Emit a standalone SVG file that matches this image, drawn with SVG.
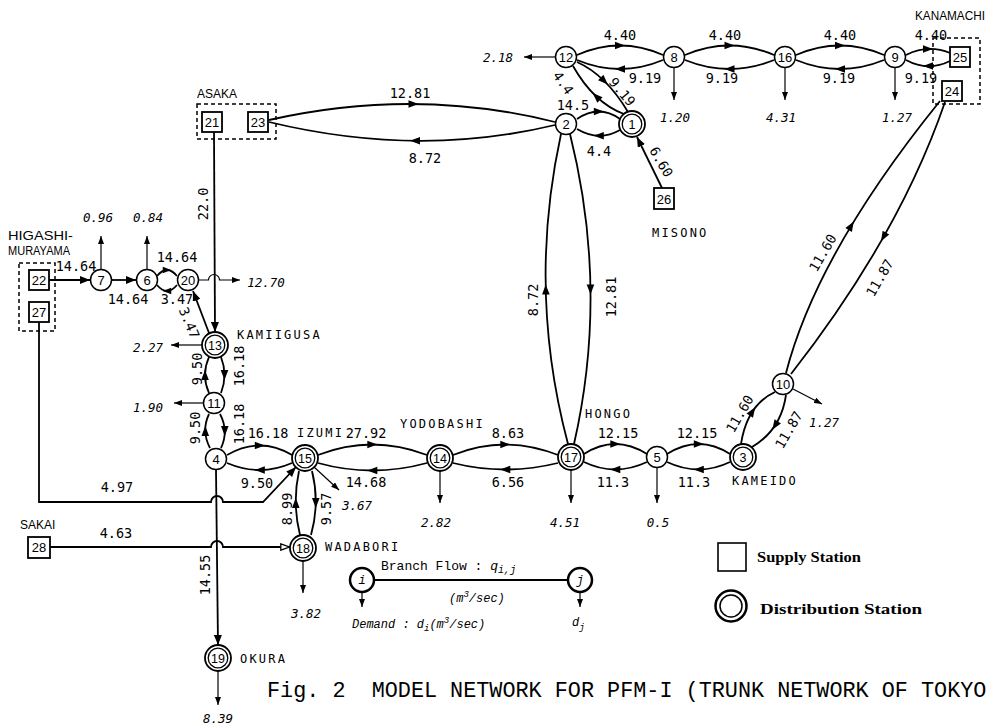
<svg xmlns="http://www.w3.org/2000/svg" xmlns:xlink="http://www.w3.org/1999/xlink" width="988" height="727" viewBox="0 0 988 727">
<style>
.n{font-family:"Liberation Sans",Arial,sans-serif;font-size:13px;text-anchor:middle}
.n2{font-family:"Liberation Sans",Arial,sans-serif;font-size:12.5px;text-anchor:middle}
.lb{font-family:"DejaVu Sans Mono",monospace;font-size:13.5px;text-anchor:middle}
.dm{font-family:"DejaVu Sans Mono",monospace;font-size:12.5px;font-style:italic;text-anchor:middle}
.st{font-family:"DejaVu Sans Mono",monospace;font-size:12px;letter-spacing:2.2px}
.sn{font-family:"Liberation Sans",Arial,sans-serif;font-size:12px}
.nd{fill:#fff;stroke:#000;stroke-width:1.5}
.o{fill:#fff;stroke:#000;stroke-width:1.8}
.i{fill:none;stroke:#000;stroke-width:1.3}
.bx{fill:#fff;stroke:#000;stroke-width:1.8}
.dash{fill:none;stroke:#000;stroke-width:1.5;stroke-dasharray:4 3}
.e{fill:none;stroke:#000;stroke-width:1.8}
.d{fill:none;stroke:#000;stroke-width:1.2}
.lg{font-family:"Liberation Mono","Courier New",monospace;font-size:13px}
.lgi{font-family:"Liberation Mono","Courier New",monospace;font-size:12px;font-style:italic}
.bs{font-family:"Liberation Serif","Times New Roman",serif;font-size:14px;font-weight:bold}
.title{font-family:"Liberation Mono","Courier New",monospace;font-size:21.8px;white-space:pre}
</style>
<defs>
<marker id="ah" viewBox="0 0 10 8" refX="10" refY="4" markerWidth="10" markerHeight="8" markerUnits="userSpaceOnUse" orient="auto"><path d="M0,0 L10,4 L0,8 Z" fill="#000"/></marker>
<marker id="as" viewBox="0 0 8 6" refX="8" refY="3" markerWidth="8" markerHeight="6" markerUnits="userSpaceOnUse" orient="auto"><path d="M0,0 L8,3 L0,6 Z" fill="#000"/></marker>
<marker id="ao" viewBox="0 0 10 8" refX="10" refY="4" markerWidth="10" markerHeight="8" markerUnits="userSpaceOnUse" orient="auto"><path d="M0.8,0.8 L9.5,4 L0.8,7.2 Z" fill="#fff" stroke="#000" stroke-width="1.3"/></marker>
<path id="am" d="M5,0 L-5,-3.8 L-5,3.8 Z"/>
</defs>
<rect width="988" height="727" fill="#fff"/>

<g id="connectors">
 <g class="e">
  <path d="M577,55 Q620,36 663,55"/><path d="M663,60 Q620,78 577,60"/>
  <path d="M685,55 Q729.5,36 774,55"/><path d="M774,60 Q729.5,78 685,60"/>
  <path d="M796,55 Q840,36 884,55"/><path d="M884,60 Q840,78 796,60"/>
  <path d="M906,55 Q928,44 950,53"/><path d="M950,61 Q928,72 906,60"/>
  <path d="M624,114 Q594,103 573,66"/><path d="M577,62 Q606,75 628,112"/>
  <path d="M577,119 Q599,104 620,119"/><path d="M620,130 Q599,142 577,129"/>
  <path d="M662,188 L637,137" marker-end="url(#ah)"/>
  <path d="M269,120 Q415,87 555,122"/><path d="M555,125 Q418,158 269,122"/>
  <path d="M568,444 Q527,290 561,134"/><path d="M570,134 Q609,290 574,444"/>
  <path d="M786,373 Q817,253 940,101"/><path d="M945,102 Q899,236 791,374"/>
  <path d="M741,444 Q747,405 775,392"/><path d="M786,395 Q781,430 752,447"/>
  <path d="M49,280 H90" marker-end="url(#ah)"/>
  <path d="M112,280 H136" marker-end="url(#ah)"/>
  <path d="M157,276 Q167,264 177,276"/><path d="M177,285 Q167,297 157,285"/>
  <path d="M214,132 L215,332" marker-end="url(#ah)"/>
  <path d="M209,333 L193,291" marker-end="url(#ah)"/>
  <path d="M209,393 Q201,375 209,357"/><path d="M221,357 Q228,375 221,393"/>
  <path d="M210,448 Q201,431 209,414"/><path d="M220,414 Q229,431 221,448"/>
  <path d="M227,455 Q260,436 292,455"/><path d="M292,463 Q260,477 227,463"/>
  <path d="M318,455 Q372,434 427,455"/><path d="M427,463 Q372,478 318,463"/>
  <path d="M453,455 Q505,434 558,455"/><path d="M558,463 Q505,476 453,463"/>
  <path d="M584,454 Q615,434 647,454"/><path d="M647,462 Q615,477 584,462"/>
  <path d="M667,454 Q699,434 730,454"/><path d="M730,462 Q699,477 667,462"/>
  <path d="M300,535 Q292,503 299,471"/><path d="M312,471 Q320,503 311,535"/>
  <path d="M216,470 L218,645" marker-end="url(#ah)"/>
  <path d="M39,322 V502 H211 A6,6 0 0 1 223,502 H263 L296,467" marker-end="url(#ah)"/>
  <path d="M50,547 H211 A6,6 0 0 1 223,547 H290" marker-end="url(#ao)"/>
 </g>
 <g class="d">
  <path d="M555.5,57 H524" marker-end="url(#as)"/>
  <path d="M674,67.5 V100" marker-end="url(#as)"/>
  <path d="M785,67.5 V100" marker-end="url(#as)"/>
  <path d="M895,67.5 V100" marker-end="url(#as)"/>
  <path d="M101,269.5 V236" marker-end="url(#as)"/>
  <path d="M147,269.5 V236" marker-end="url(#as)"/>
  <path d="M198.5,280 H208.5 A5.5,5.5 0 0 1 219.5,280 H240" marker-end="url(#as)"/>
  <path d="M202,345 H171" marker-end="url(#as)"/>
  <path d="M203.5,403 H174" marker-end="url(#as)"/>
  <path d="M314,467 L339,490" marker-end="url(#as)"/>
  <path d="M440,471 V503" marker-end="url(#as)"/>
  <path d="M571,470 V503" marker-end="url(#as)"/>
  <path d="M657,467.5 V503" marker-end="url(#as)"/>
  <path d="M303,561 V593" marker-end="url(#as)"/>
  <path d="M218,671 V705" marker-end="url(#as)"/>
  <path d="M793,389 L822,404" marker-end="url(#as)"/>
 </g>
 <g fill="#000">
  <use xlink:href="#am" transform="translate(620,45.5)"/>
  <use xlink:href="#am" transform="translate(620,69) rotate(180)"/>
  <use xlink:href="#am" transform="translate(729.5,45.5)"/>
  <use xlink:href="#am" transform="translate(729.5,69) rotate(180)"/>
  <use xlink:href="#am" transform="translate(840,45.5)"/>
  <use xlink:href="#am" transform="translate(840,69) rotate(180)"/>
  <use xlink:href="#am" transform="translate(928,49)"/>
  <use xlink:href="#am" transform="translate(928,66) rotate(180)"/>
  <use xlink:href="#am" transform="translate(596.3,96.5) rotate(-136.7)"/>
  <use xlink:href="#am" transform="translate(604.3,81) rotate(44.4)"/>
  <use xlink:href="#am" transform="translate(598.8,111.5)"/>
  <use xlink:href="#am" transform="translate(598.8,135.8) rotate(180)"/>
  <use xlink:href="#am" transform="translate(413.5,104)"/>
  <use xlink:href="#am" transform="translate(415,140.8) rotate(180)"/>
  <use xlink:href="#am" transform="translate(545.8,289.5) rotate(-91.3)"/>
  <use xlink:href="#am" transform="translate(590.5,289.5) rotate(89.3)"/>
  <use xlink:href="#am" transform="translate(851.2,225.8) rotate(-58.9)"/>
  <use xlink:href="#am" transform="translate(883.5,237) rotate(119.5)"/>
  <use xlink:href="#am" transform="translate(752.5,411.5) rotate(-56.8)"/>
  <use xlink:href="#am" transform="translate(775,425.5) rotate(123.2)"/>
  <use xlink:href="#am" transform="translate(167,270) scale(0.85)"/>
  <use xlink:href="#am" transform="translate(167,291) rotate(180) scale(0.85)"/>
  <use xlink:href="#am" transform="translate(205,375) rotate(-90)"/>
  <use xlink:href="#am" transform="translate(224.5,375) rotate(90)"/>
  <use xlink:href="#am" transform="translate(205.3,431) rotate(-90)"/>
  <use xlink:href="#am" transform="translate(224.8,431) rotate(90)"/>
  <use xlink:href="#am" transform="translate(259.8,445.5)"/>
  <use xlink:href="#am" transform="translate(259.8,470) rotate(180)"/>
  <use xlink:href="#am" transform="translate(372.3,444.5)"/>
  <use xlink:href="#am" transform="translate(372.3,470.5) rotate(180)"/>
  <use xlink:href="#am" transform="translate(505.3,444.5)"/>
  <use xlink:href="#am" transform="translate(505.3,469.5) rotate(180)"/>
  <use xlink:href="#am" transform="translate(615.3,444)"/>
  <use xlink:href="#am" transform="translate(615.3,469.5) rotate(180)"/>
  <use xlink:href="#am" transform="translate(698.8,444)"/>
  <use xlink:href="#am" transform="translate(698.8,469.5) rotate(180)"/>
  <use xlink:href="#am" transform="translate(295.8,503) rotate(-90)"/>
  <use xlink:href="#am" transform="translate(315.8,503) rotate(90)"/>
 </g>
</g>

<g id="edge-labels">
 <text class="lb" x="620" y="40">4.40</text><text class="lb" x="645" y="83">9.19</text>
 <text class="lb" x="725" y="40">4.40</text><text class="lb" x="722" y="83">9.19</text>
 <text class="lb" x="840" y="40">4.40</text><text class="lb" x="839" y="83">9.19</text>
 <text class="lb" x="931" y="40">4.40</text><text class="lb" x="921" y="83">9.19</text>
 <text class="lb" x="573" y="110">14.5</text>
 <text class="lb" x="599" y="156">4.4</text>
 <text class="lb" transform="translate(563,83) rotate(55)" y="4.5">4.4</text>
 <text class="lb" transform="translate(622,92) rotate(50)" y="4.5">9.19</text>
 <text class="lb" transform="translate(661,162) rotate(60)" y="4.5">6.60</text>
 <text class="lb" x="410" y="98">12.81</text>
 <text class="lb" x="425" y="163">8.72</text>
 <text class="lb" transform="translate(533,300) rotate(-90)" y="4.5">8.72</text>
 <text class="lb" transform="translate(611,297) rotate(-90)" y="4.5">12.81</text>
 <text class="lb" transform="translate(823,253) rotate(-60)" y="4.5">11.60</text>
 <text class="lb" transform="translate(880,278) rotate(-60)" y="4.5">11.87</text>
 <text class="lb" transform="translate(740,414) rotate(-60)" y="4.5">11.60</text>
 <text class="lb" transform="translate(789,430) rotate(-60)" y="4.5">11.87</text>
 <text class="lb" transform="translate(203,204) rotate(-90)" y="4.5">22.0</text>
 <text class="lb" x="76" y="271">14.64</text>
 <text class="lb" x="128" y="304">14.64</text>
 <text class="lb" x="177" y="262">14.64</text>
 <text class="lb" x="177" y="304">3.47</text>
 <text class="lb" transform="translate(189,323) rotate(67)" y="4.5">3.47</text>
 <text class="lb" transform="translate(197,369) rotate(-90)" y="4.5">9.50</text>
 <text class="lb" transform="translate(239,366) rotate(-90)" y="4.5">16.18</text>
 <text class="lb" transform="translate(195,428) rotate(-90)" y="4.5">9.50</text>
 <text class="lb" transform="translate(239,424) rotate(-90)" y="4.5">16.18</text>
 <text class="lb" x="268" y="438">16.18</text>
 <text class="lb" x="257" y="488">9.50</text>
 <text class="lb" x="366" y="438">27.92</text>
 <text class="lb" x="366" y="487">14.68</text>
 <text class="lb" x="508" y="438">8.63</text>
 <text class="lb" x="508" y="487">6.56</text>
 <text class="lb" x="618" y="438">12.15</text>
 <text class="lb" x="613" y="487">11.3</text>
 <text class="lb" x="697" y="438">12.15</text>
 <text class="lb" x="694" y="487">11.3</text>
 <text class="lb" transform="translate(287,509) rotate(-90)" y="4.5">8.99</text>
 <text class="lb" transform="translate(326,509) rotate(-90)" y="4.5">9.57</text>
 <text class="lb" transform="translate(205,575) rotate(-90)" y="4.5">14.55</text>
 <text class="lb" x="117" y="492">4.97</text>
 <text class="lb" x="116" y="538">4.63</text>
 <text class="dm" x="498" y="62">2.18</text>
 <text class="dm" x="675" y="122">1.20</text>
 <text class="dm" x="781" y="122">4.31</text>
 <text class="dm" x="897" y="122">1.27</text>
 <text class="dm" x="98" y="222">0.96</text>
 <text class="dm" x="148" y="222">0.84</text>
 <text class="dm" x="266" y="287">12.70</text>
 <text class="dm" x="148" y="352">2.27</text>
 <text class="dm" x="148" y="412">1.90</text>
 <text class="dm" x="357" y="510">3.67</text>
 <text class="dm" x="436" y="527">2.82</text>
 <text class="dm" x="565" y="527">4.51</text>
 <text class="dm" x="658" y="527">0.5</text>
 <text class="dm" x="306" y="618">3.82</text>
 <text class="dm" x="218" y="723">8.39</text>
 <text class="dm" x="824" y="427">1.27</text>
</g>

<g id="groups">
 <rect class="dash" x="197" y="104" width="79" height="35"/>
 <text class="sn" x="197" y="98">ASAKA</text>
 <rect class="dash" x="19" y="263" width="36" height="68"/>
 <text class="sn" x="8" y="240" textLength="65" lengthAdjust="spacingAndGlyphs">HIGASHI-</text>
 <text class="sn" x="8" y="255" textLength="62" lengthAdjust="spacingAndGlyphs">MURAYAMA</text>
 <rect class="dash" x="933" y="38" width="47" height="66"/>
 <text class="sn" x="915" y="20" textLength="70" lengthAdjust="spacingAndGlyphs">KANAMACHI</text>
</g>

<g id="node-21"><rect class="bx" x="202" y="112" width="20" height="20"/><text class="n" x="212" y="127">21</text></g>
<g id="node-23"><rect class="bx" x="248" y="112" width="20" height="20"/><text class="n" x="258" y="127">23</text></g>
<g id="node-22"><rect class="bx" x="29" y="270" width="20" height="20"/><text class="n" x="39" y="285">22</text></g>
<g id="node-27"><rect class="bx" x="29" y="302" width="20" height="20"/><text class="n" x="39" y="317">27</text></g>
<g id="node-25"><rect class="bx" x="950" y="47" width="20" height="20"/><text class="n" x="960" y="62">25</text></g>
<g id="node-24"><rect class="bx" x="942" y="81" width="20" height="20"/><text class="n" x="952" y="96">24</text></g>
<g id="node-26"><rect class="bx" x="654" y="188" width="20" height="21"/><text class="n" x="664" y="203.5">26</text><text class="st" x="652" y="237">MISONO</text></g>
<g id="node-28"><rect class="bx" x="28" y="537" width="22" height="21"/><text class="n" x="39" y="552">28</text><text class="sn" x="20" y="529">SAKAI</text></g>

<g id="node-12"><circle class="nd" cx="566" cy="57" r="10.5"/><text class="n" x="566" y="61.5">12</text></g>
<g id="node-8"><circle class="nd" cx="674" cy="57" r="10.5"/><text class="n" x="674" y="61.5">8</text></g>
<g id="node-16"><circle class="nd" cx="785" cy="57" r="10.5"/><text class="n" x="785" y="61.5">16</text></g>
<g id="node-9"><circle class="nd" cx="895" cy="57" r="10.5"/><text class="n" x="895" y="61.5">9</text></g>
<g id="node-2"><circle class="nd" cx="566" cy="124" r="10.5"/><text class="n" x="566" y="128.5">2</text></g>
<g id="node-1"><circle class="o" cx="632" cy="124" r="13"/><circle class="i" cx="632" cy="124" r="9.8"/><text class="n2" x="632" y="128.5">1</text></g>
<g id="node-7"><circle class="nd" cx="101" cy="280" r="10.5"/><text class="n" x="101" y="284.5">7</text></g>
<g id="node-6"><circle class="nd" cx="147" cy="280" r="10.5"/><text class="n" x="147" y="284.5">6</text></g>
<g id="node-20"><circle class="nd" cx="188" cy="280" r="10.5"/><text class="n" x="188" y="284.5">20</text></g>
<g id="node-13"><circle class="o" cx="215" cy="345" r="13"/><circle class="i" cx="215" cy="345" r="9.8"/><text class="n2" x="215" y="349.5">13</text><text class="st" x="237" y="339">KAMIIGUSA</text></g>
<g id="node-11"><circle class="nd" cx="214" cy="403" r="10.5"/><text class="n" x="214" y="407.5">11</text></g>
<g id="node-4"><circle class="nd" cx="216" cy="459" r="10.5"/><text class="n" x="216" y="463.5">4</text></g>
<g id="node-15"><circle class="o" cx="305" cy="458" r="13"/><circle class="i" cx="305" cy="458" r="9.8"/><text class="n2" x="305" y="462.5">15</text><text class="st" x="297" y="437">IZUMI</text></g>
<g id="node-14"><circle class="o" cx="440" cy="458" r="13"/><circle class="i" cx="440" cy="458" r="9.8"/><text class="n2" x="440" y="462.5">14</text><text class="st" x="400" y="428">YODOBASHI</text></g>
<g id="node-17"><circle class="o" cx="571" cy="457" r="13"/><circle class="i" cx="571" cy="457" r="9.8"/><text class="n2" x="571" y="461.5">17</text><text class="st" x="585" y="418">HONGO</text></g>
<g id="node-5"><circle class="nd" cx="657" cy="457" r="10.5"/><text class="n" x="657" y="461.5">5</text></g>
<g id="node-3"><circle class="o" cx="743" cy="457" r="13"/><circle class="i" cx="743" cy="457" r="9.8"/><text class="n2" x="743" y="461.5">3</text><text class="st" x="732" y="485">KAMEIDO</text></g>
<g id="node-10"><circle class="nd" cx="783" cy="384" r="10.5"/><text class="n" x="783" y="388.5">10</text></g>
<g id="node-18"><circle class="o" cx="303" cy="548" r="13"/><circle class="i" cx="303" cy="548" r="9.8"/><text class="n2" x="303" y="552.5">18</text><text class="st" x="325" y="551">WADABORI</text></g>
<g id="node-19"><circle class="o" cx="218" cy="658" r="13"/><circle class="i" cx="218" cy="658" r="9.8"/><text class="n2" x="218" y="662.5">19</text><text class="st" x="240" y="663">OKURA</text></g>

<g id="legend">
 <path class="e" d="M374,580 H568"/>
 <path class="d" d="M362,592 V607" marker-end="url(#as)"/>
 <path class="d" d="M580,592 V607" marker-end="url(#as)"/>
 <circle cx="362" cy="580" r="12" fill="#fff" stroke="#000" stroke-width="2.5"/>
 <circle cx="580" cy="580" r="12" fill="#fff" stroke="#000" stroke-width="2.5"/>
 <text class="lgi" x="362" y="584" text-anchor="middle">i</text>
 <text class="lgi" x="580" y="584" text-anchor="middle">j</text>
 <text class="lg" x="381" y="570">Branch Flow : <tspan font-style="italic">q</tspan><tspan font-style="italic" font-size="10" dy="3">i,j</tspan></text>
 <text class="lgi" x="449" y="602">(m<tspan font-size="9" dy="-5">3</tspan><tspan dy="5">/sec)</tspan></text>
 <text class="lgi" x="352" y="628">Demand : d<tspan font-size="9" dy="3">i</tspan><tspan dy="-3">(m</tspan><tspan font-size="9" dy="-5">3</tspan><tspan dy="5">/sec)</tspan></text>
 <text class="lgi" x="572" y="626">d<tspan font-size="9" dy="4">j</tspan></text>
 <rect x="718" y="543" width="28" height="28" fill="#fff" stroke="#000" stroke-width="1.6"/>
 <text class="bs" x="757" y="562" textLength="104" lengthAdjust="spacingAndGlyphs">Supply Station</text>
 <circle cx="731" cy="606" r="15.5" fill="#fff" stroke="#000" stroke-width="2.5"/>
 <circle cx="731" cy="606" r="11" fill="none" stroke="#000" stroke-width="1.5"/>
 <text class="bs" x="760" y="614" textLength="162" lengthAdjust="spacingAndGlyphs">Distribution Station</text>
</g>

<text class="title" x="267" y="697">Fig. 2  MODEL NETWORK FOR PFM-I (TRUNK NETWORK OF TOKYO</text>
</svg>
